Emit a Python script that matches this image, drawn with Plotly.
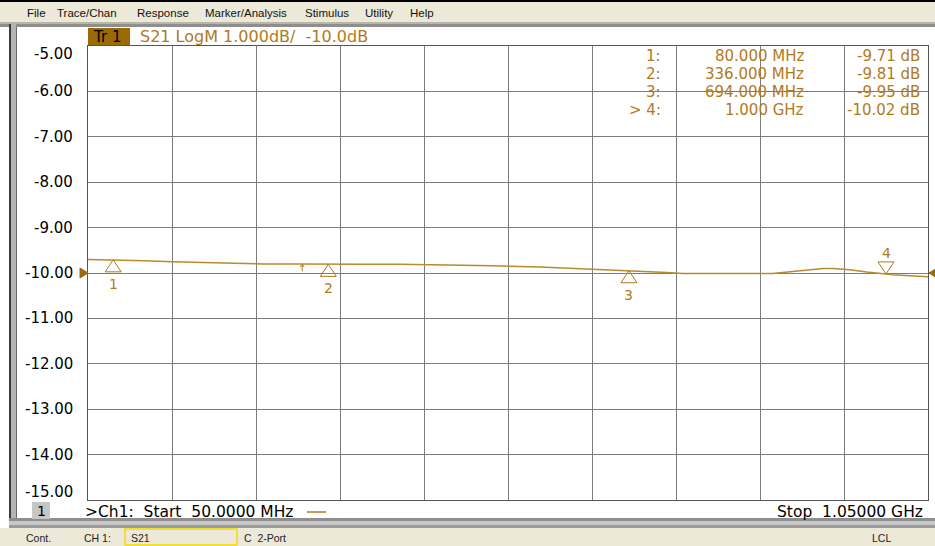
import numpy as np
import plotly.graph_objects as go

# ---------------- data ----------------
freq_mhz = [50, 80, 117, 150, 192, 223, 260, 300, 336, 380, 421, 475, 532, 588, 644,
            694, 739, 758, 800, 865, 877, 901, 925, 937, 957, 977, 1000, 1008, 1050]
s21_db = [-9.70, -9.71, -9.73, -9.75, -9.77, -9.79, -9.80, -9.80, -9.81, -9.81, -9.81,
          -9.82, -9.84, -9.87, -9.91, -9.95, -9.99, -10.01, -10.01, -10.01, -9.99, -9.94,
          -9.90, -9.90, -9.93, -9.98, -10.02, -10.04, -10.08]

marker_ids = ["1:", "2:", "3:", "> 4:"]
marker_nums = ["1", "2", "3", "4"]
marker_freq = [80, 336, 694, 1000]
marker_db = [-9.71, -9.81, -9.95, -10.02]
marker_freq_text = ["80.000 MHz", "336.000 MHz", "694.000 MHz", "1.000 GHz"]
marker_db_text = ["-9.71 dB", "-9.81 dB", "-9.95 dB", "-10.02 dB"]
aux_marker_freq = [305]

y_ticks = [-5, -6, -7, -8, -9, -10, -11, -12, -13, -14, -15]
y_tick_text = ["-5.00", "-6.00", "-7.00", "-8.00", "-9.00", "-10.00",
               "-11.00", "-12.00", "-13.00", "-14.00", "-15.00"]
x_grid = [50, 150, 250, 350, 450, 550, 650, 750, 850, 950, 1050]
ref_level = -10.0

menu_items = ["File", "Trace/Chan", "Response", "Marker/Analysis", "Stimulus", "Utility", "Help"]
menu_x = [25, 55, 135, 203, 303, 363, 408]

# ---------------- style ----------------
W, H = 935, 546
L, R, T, B = 88, 928, 46, 500
GOLD = "#B07A1C"
TRACE = "#B98A2E"
GRID = "#7c7c7c"
BEIGE = "#ECE9D8"
FONT = "DejaVu Sans"


def px(x):
    return (x - L) / (R - L)


def py(y):
    return (B - y) / (B - T)


fig = go.Figure()
fig.add_trace(go.Scatter(x=freq_mhz, y=s21_db, mode="lines",
                         line=dict(color=TRACE, width=1.5), hoverinfo="skip",
                         showlegend=False))

shapes = []
annotations = []


def rect(x0, y0, x1, y1, fill, line=None, lw=0, layer="above"):
    shapes.append(dict(type="rect", xref="paper", yref="paper",
                       x0=px(x0), x1=px(x1), y0=py(y0), y1=py(y1),
                       fillcolor=fill, line=dict(color=line or fill, width=lw),
                       layer=layer))


def text(x, y, s, size=12, color="black", xanchor="left", family=FONT):
    annotations.append(dict(xref="paper", yref="paper", x=px(x), y=py(y), text=s,
                            showarrow=False, xanchor=xanchor, yanchor="middle",
                            font=dict(family=family, size=size, color=color)))


# window chrome: menu bar
rect(0, 0, W, 2, "black")
rect(0, 2, W, 22, BEIGE)
rect(0, 22, W, 24, "#b9b6a8")
rect(0, 24, W, 27, "#8e8e8e")
for s, x in zip(menu_items, menu_x):
    text(x, 13, s, size=11.5, color="#111", family="Liberation Sans")

# left frame
rect(9, 24, 11, 528, "#3c3c3c")
rect(11, 24, 16, 528, "#b4b4b4")
rect(16, 27, 17, 520, "#6a6a6a")

# bottom frame and status bar
rect(9, 518, W, 521, "#8e8e8e")
rect(9, 521, W, 525, "#c8c8c8")
rect(9, 525, W, 528, "#9a9a9a")
rect(0, 528, W, 546, BEIGE)
text(24, 538, "Cont.", size=10.5, color="#222", family="Liberation Sans")
text(82, 538, "CH 1:", size=10.5, color="#222", family="Liberation Sans")
rect(125, 529, 237, 545, BEIGE, line="#f2dc00", lw=1.5)
text(129, 538, "S21", size=10.5, color="#222", family="Liberation Sans")
text(242, 538, "C  2-Port", size=10.5, color="#222", family="Liberation Sans")
text(881, 538, "LCL", size=10.5, color="#222", xanchor="center", family="Liberation Sans")

# trace title
rect(88, 28, 130, 45, "#9C6A04")
text(91, 37, "Tr 1", size=15, color="black")
text(138, 37, "S21 LogM 1.000dB/  -10.0dB", size=16, color=GOLD)

# channel line
rect(32, 502, 50, 519, "#c6c6c6")
text(41, 511, "1", size=14, color="black", xanchor="center")
text(83, 512, "&gt;Ch1:  Start  50.0000 MHz", size=15.5, color="black")
shapes.append(dict(type="line", xref="paper", yref="paper", x0=px(307), x1=px(326),
                   y0=py(512), y1=py(512), line=dict(color=GOLD, width=1.5)))
text(925, 512, "Stop  1.05000 GHz", size=15.5, color="black", xanchor="right")

# y-axis labels (end labels kept inside the graticule, as on the instrument)
for i, (v, s) in enumerate(zip(y_ticks, y_tick_text)):
    shift = 0
    if i == 0:
        shift = -8
    elif i == len(y_ticks) - 1:
        shift = 8
    annotations.append(dict(xref="paper", yref="y", x=px(75), y=v, text=s,
                            showarrow=False, xanchor="right", yanchor="middle",
                            yshift=shift,
                            font=dict(family=FONT, size=15, color="black")))

# marker table
row_y = [56, 74, 92, 110]
for i in range(4):
    text(663, row_y[i], marker_ids[i], size=15, color=GOLD, xanchor="right")
    text(806, row_y[i], marker_freq_text[i], size=15, color=GOLD, xanchor="right")
    text(922, row_y[i], marker_db_text[i], size=15, color=GOLD, xanchor="right")

# reference level arrows
shapes.append(dict(type="path", xref="paper", yref="y", xsizemode="pixel", ysizemode="pixel",
                   xanchor=0, yanchor=ref_level, path="M0,0 L-8,5 L-8,-5 Z",
                   fillcolor="#9C6A04", line=dict(color="#9C6A04", width=1)))
shapes.append(dict(type="path", xref="paper", yref="y", xsizemode="pixel", ysizemode="pixel",
                   xanchor=1, yanchor=ref_level, path="M1,0 L9,5 L9,-5 Z",
                   fillcolor="#9C6A04", line=dict(color="#9C6A04", width=1)))

# markers
for i in range(4):
    f, v = marker_freq[i], marker_db[i]
    if i < 3:
        path = "M0,0 L-8,-12 L8,-12 Z"
        ys = -24
    else:
        path = "M0,0 L-8,12 L8,12 Z"
        ys = 21
    shapes.append(dict(type="path", xref="x", yref="y", xsizemode="pixel", ysizemode="pixel",
                       xanchor=f, yanchor=v, path=path, fillcolor="rgba(0,0,0,0)",
                       line=dict(color=GOLD, width=1)))
    annotations.append(dict(x=f, y=v, xref="x", yref="y", text=marker_nums[i],
                            showarrow=False, yshift=ys,
                            font=dict(family=FONT, size=14, color=GOLD)))

for f in aux_marker_freq:
    v = float(np.interp(f, freq_mhz, s21_db))
    annotations.append(dict(x=f, y=v, xref="x", yref="y", text="", showarrow=True,
                            ax=0, ay=9, arrowhead=4, arrowsize=0.8, arrowwidth=1,
                            arrowcolor=GOLD, standoff=0))

fig.update_layout(
    width=W, height=H,
    margin=dict(l=L, r=W - R, t=T, b=H - B, pad=0),
    paper_bgcolor="white", plot_bgcolor="white",
    shapes=shapes, annotations=annotations,
    showlegend=False,
    xaxis=dict(range=[50, 1050], tickvals=x_grid, showticklabels=False, ticks="",
               showgrid=True, gridcolor=GRID, gridwidth=1, zeroline=False,
               showline=True, linecolor="#555", linewidth=1, mirror=True, fixedrange=True),
    yaxis=dict(range=[-15, -5], tickvals=y_ticks, showticklabels=False, ticks="",
               showgrid=True, gridcolor=GRID, gridwidth=1, zeroline=False,
               showline=True, linecolor="#555", linewidth=1, mirror=True,
               fixedrange=True),
)

fig.write_html("out.html", config={"displayModeBar": False},
               post_script="document.body.style.margin='0';document.body.style.overflow='hidden';")
